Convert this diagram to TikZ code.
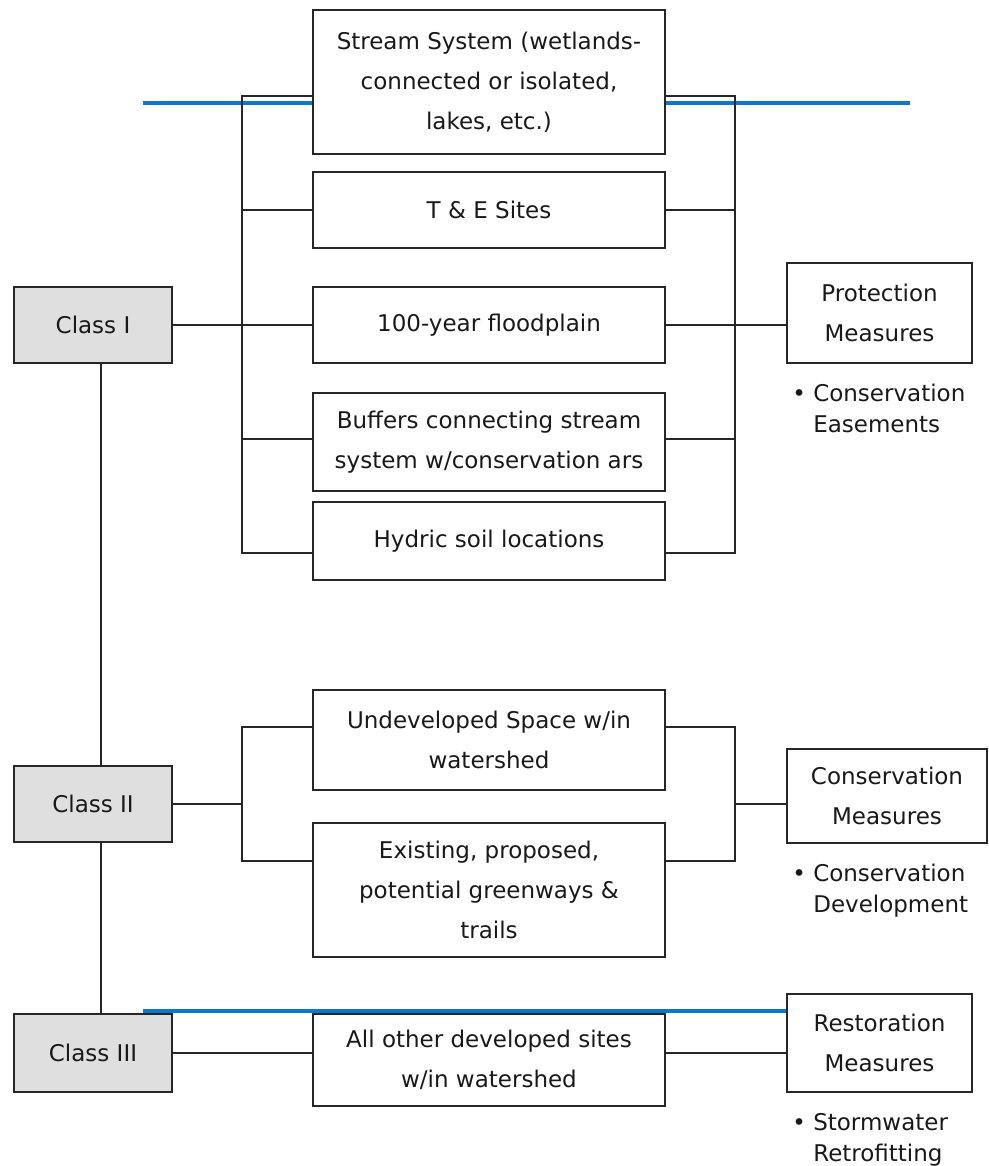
\documentclass[tikz,border=0pt]{standalone}
\usepackage{fontspec}
\setmainfont{DejaVu Sans}
\usetikzlibrary{positioning,backgrounds}
\definecolor{waterblue}{HTML}{0A78CC}

\begin{document}
\begin{tikzpicture}[x=1pt,y=-1pt,
  font=\fontsize{23}{40}\selectfont,
  every node/.style={inner sep=0pt, text=black!90},
  box/.style={draw=black!85, line width=1.6pt, fill=white, align=center, minimum width=352pt},
  classbox/.style={box, fill=gray!25, minimum width=158pt, minimum height=76pt},
  measure/.style={box, minimum width=185pt},
  note/.style={align=left, font=\fontsize{23}{31}\selectfont},
  link/.style={line width=1.6pt, draw=black!85},
  waterline/.style={line width=4.5pt, draw=waterblue}]

  \useasboundingbox (0,0) rectangle (988,1166);

  % Classes on the left
  \node[classbox] (class1) at (93,325) {Class I};
  \node[classbox] (class2) at (93,804) {Class II};
  \node[classbox, minimum height=78pt] (class3) at (93,1053) {Class III};

  % Site types in the middle
  \node[box, minimum height=144pt] (stream) at (489,82) {Stream System (wetlands-\\connected or isolated,\\lakes, etc.)};
  \node[box, minimum height=76pt] (te) at (489,210) {T \& E Sites};
  \node[box, minimum height=76pt] (flood) at (489,325) {100-year floodplain};
  \node[box, minimum height=98pt] (buffer) at (489,442) {Buffers connecting stream\\system w/conservation ars};
  \node[box, minimum height=78pt] (hydric) at (489,541) {Hydric soil locations};
  \node[box, minimum height=100pt] (undev) at (489,740) {Undeveloped Space w/in\\watershed};
  \node[box, minimum height=134pt] (exist) at (489,890) {Existing, proposed,\\potential greenways \&\\trails};
  \node[box, minimum height=92pt] (other) at (489,1060) {All other developed sites\\w/in watershed};

  % Measures on the right
  \node[measure, minimum height=100pt] (protect) at (879.5,313) {Protection\\Measures};
  \node[measure, minimum width=200pt, minimum height=94pt] (conserv) at (887,796) {Conservation\\Measures};
  \node[measure, minimum height=98pt] (restore) at (879.5,1043) {Restoration\\Measures};

  \node[note, below=20pt of protect.south west, anchor=north west, xshift=6pt] (ease)
    {\textbullet\ Conservation\\\phantom{\textbullet\ }Easements};
  \node[note, below=20pt of conserv.south west, anchor=north west, xshift=6pt] (devel)
    {\textbullet\ Conservation\\\phantom{\textbullet\ }Development};
  \node[note, below=20pt of restore.south west, anchor=north west, xshift=6pt] (retro)
    {\textbullet\ Stormwater\\\phantom{\textbullet\ }Retrofitting};

  % Class I brackets
  \coordinate (ltop) at (242,96);
  \coordinate (lbot) at (242,553);
  \coordinate (rtop) at (735,96);
  \coordinate (rbot) at (735,553);
  \draw[link] (ltop -| stream.west) -- (ltop) -- (lbot) -- (lbot -| hydric.west);
  \draw[link] (rtop -| stream.east) -- (rtop) -- (rbot) -- (rbot -| hydric.east);
  \draw[link] (te.west) -- (te.west -| ltop);
  \draw[link] (te.east) -- (te.east -| rtop);
  \draw[link] ([yshift=3pt]buffer.west) -- ([yshift=3pt]buffer.west -| ltop);
  \draw[link] ([yshift=3pt]buffer.east) -- ([yshift=3pt]buffer.east -| rtop);
  \draw[link] (class1) -- (flood);
  \draw[link] (flood) -- (flood -| protect.west);

  % Class II brackets
  \coordinate (l2top) at (242,727);
  \coordinate (l2bot) at (242,861);
  \coordinate (r2top) at (735,727);
  \coordinate (r2bot) at (735,861);
  \draw[link] (l2top -| undev.west) -- (l2top) -- (l2bot) -- (l2bot -| exist.west);
  \draw[link] (r2top -| undev.east) -- (r2top) -- (r2bot) -- (r2bot -| exist.east);
  \draw[link] (class2) -- (class2 -| l2top);
  \draw[link] (class2 -| r2top) -- (class2 -| conserv.west);

  % Class III
  \draw[link] (class3) -- (class3 -| other.west);
  \draw[link] (class3 -| other.east) -- (class3 -| restore.west);

  % Class chain
  \draw[link] ([xshift=8pt]class1.south) -- ([xshift=8pt]class2.north);
  \draw[link] ([xshift=8pt]class2.south) -- ([xshift=8pt]class3.north);

  % Blue divider lines
  \coordinate (highwest) at (143,103);
  \coordinate (higheast) at (910,103);
  \coordinate (lowwest) at (143,1011);
  \begin{pgfonlayer}{background}
    \draw[waterline] (highwest) -- (higheast);
    \draw[waterline] (lowwest) -- (lowwest -| restore.west);
  \end{pgfonlayer}
\end{tikzpicture}
\end{document}
